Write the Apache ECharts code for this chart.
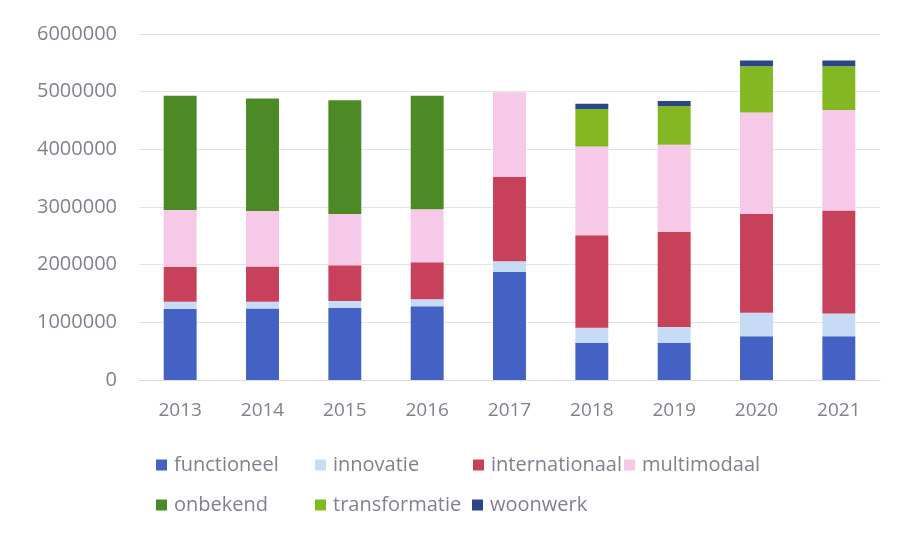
<!DOCTYPE html>
<html>
<head>
  <meta charset="utf-8">
  <title>chart</title>
  <script src="https://cdn.jsdelivr.net/npm/echarts@6/dist/echarts.min.js"></script>
  <style>
    html, body { margin: 0; padding: 0; background: #fff; }
    #chart { width: 905px; height: 536px; }
  </style>
</head>
<body>
<div id="chart"></div>
<script>
const years = ['2013', '2014', '2015', '2016', '2017', '2018', '2019', '2020', '2021']
const yTicks = [0, 1000000, 2000000, 3000000, 4000000, 5000000, 6000000]

const functioneel = [1230000, 1240000, 1250000, 1280000, 1875000, 645000, 645000, 760000, 760000]
const innovatie = [125000, 115000, 120000, 120000, 185000, 260000, 275000, 405000, 395000]
const internationaal = [605000, 615000, 620000, 640000, 1460000, 1605000, 1650000, 1715000, 1785000]
const multimodaal = [990000, 960000, 890000, 920000, 1470000, 1540000, 1510000, 1760000, 1740000]
const onbekend = [1980000, 1950000, 1970000, 1970000, 0, 0, 0, 0, 0]
const transformatie = [0, 0, 0, 0, 0, 650000, 670000, 800000, 760000]
const woonwerk = [0, 0, 0, 0, 0, 90000, 90000, 100000, 100000]

const seriesList = [
  { name: 'functioneel', data: functioneel, color: '#4462c3' },
  { name: 'innovatie', data: innovatie, color: '#c7dcf4' },
  { name: 'internationaal', data: internationaal, color: '#c8415b' },
  { name: 'multimodaal', data: multimodaal, color: '#f5c9e7' },
  { name: 'onbekend', data: onbekend, color: '#4b8a25' },
  { name: 'transformatie', data: transformatie, color: '#84b823' },
  { name: 'woonwerk', data: woonwerk, color: '#2c4587' }
]

// legend cells, laid out like the original grid
const legendPos = [
  { name: 'functioneel', left: 156, top: 455 },
  { name: 'innovatie', left: 315, top: 455 },
  { name: 'internationaal', left: 473, top: 455 },
  { name: 'multimodaal', left: 624, top: 455 },
  { name: 'onbekend', left: 156, top: 495 },
  { name: 'transformatie', left: 315, top: 495 },
  { name: 'woonwerk', left: 472, top: 495 }
]

const textColor = '#847e8e'
const fontFamily = '"Open Sans", sans-serif'

const chart = echarts.init(document.getElementById('chart'))
chart.setOption({
  animation: false,
  backgroundColor: '#ffffff',
  grid: {
    left: 139,
    right: 25,
    top: 34,
    bottom: 156
  },
  legend: legendPos.map(l => ({
    data: [l.name],
    left: l.left,
    top: l.top,
    padding: 0,
    itemWidth: 11,
    itemHeight: 11,
    icon: 'rect',
    textStyle: { color: textColor, fontSize: 20, fontFamily: fontFamily, padding: [0, 0, 0, 2] }
  })),
  xAxis: {
    type: 'category',
    data: years,
    axisTick: { show: false },
    axisLine: { lineStyle: { color: '#dcdcdc' } },
    axisLabel: { color: textColor, fontSize: 19, fontFamily: fontFamily, margin: 21 }
  },
  yAxis: {
    type: 'value',
    min: yTicks[0],
    max: yTicks[yTicks.length - 1],
    interval: yTicks[1] - yTicks[0],
    axisLine: { show: false },
    axisTick: { show: false },
    splitLine: { lineStyle: { color: '#e4e4e4' } },
    axisLabel: {
      color: textColor,
      fontSize: 20,
      fontFamily: fontFamily,
      margin: 22,
      formatter: v => String(v)
    }
  },
  series: seriesList.map(s => ({
    name: s.name,
    type: 'bar',
    stack: 'total',
    barWidth: '40%',
    data: s.data,
    itemStyle: { color: s.color }
  }))
})
</script>
</body>
</html>
